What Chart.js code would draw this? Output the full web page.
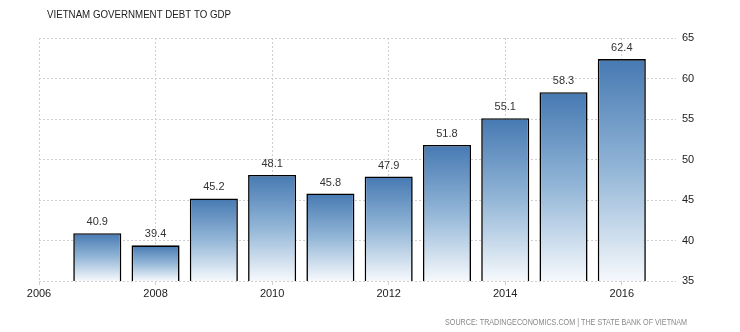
<!DOCTYPE html>
<html>
<head>
<meta charset="utf-8">
<script src="https://cdn.jsdelivr.net/npm/chart.js@4/dist/chart.umd.min.js"></script>
<style>
html,body{margin:0;padding:0;background:#fff;}
#wrap{width:740px;height:332px;position:relative;}
</style>
</head>
<body>
<div id="wrap"><canvas id="c" width="740" height="332"></canvas></div>
<script>
const titleText = "VIETNAM GOVERNMENT DEBT TO GDP";
const sourceText = "SOURCE: TRADINGECONOMICS.COM | THE STATE BANK OF VIETNAM";
const years = [2007, 2008, 2009, 2010, 2011, 2012, 2013, 2014, 2015, 2016];
const debt = [40.9, 39.4, 45.2, 48.1, 45.8, 47.9, 51.8, 55.1, 58.3, 62.4];
const xTickYears = [2006, 2008, 2010, 2012, 2014, 2016];
const yTicks = [35, 40, 45, 50, 55, 60, 65];

const FONT = "'Liberation Sans', Arial, sans-serif";
const NARROW = "'Liberation Sans Narrow', 'Arial Narrow', 'Liberation Sans', sans-serif";

const points = years.map((yr, i) => ({x: yr, y: debt[i]}));

function fitText(ctx, text, x, y, width) {
  const w = ctx.measureText(text).width;
  if (w > width) {
    ctx.save();
    ctx.translate(x, y);
    ctx.scale(width / w, 1);
    ctx.fillText(text, 0, 0);
    ctx.restore();
  } else {
    ctx.fillText(text, x, y);
  }
}

const textPlugin = {
  id: 'texts',
  afterDatasetsDraw(chart) {
    const ctx = chart.ctx;
    const meta = chart.getDatasetMeta(0);
    ctx.save();
    ctx.fillStyle = '#333';
    ctx.font = '11px ' + FONT;
    ctx.textAlign = 'center';
    ctx.textBaseline = 'middle';
    meta.data.forEach((bar, i) => {
      ctx.fillText(debt[i].toFixed(1), bar.x, bar.y - 11);
    });
    ctx.restore();
  },
  afterDraw(chart) {
    const ctx = chart.ctx;
    ctx.save();
    ctx.fillStyle = '#222';
    ctx.font = '11px ' + FONT;
    ctx.textAlign = 'left';
    ctx.textBaseline = 'middle';
    fitText(ctx, titleText, 47, 15, 184);
    ctx.fillStyle = '#888';
    ctx.font = '9px ' + FONT;
    ctx.textAlign = 'left';
    fitText(ctx, sourceText, 445, 323, 242);
    ctx.restore();
  }
};

new Chart(document.getElementById('c'), {
  type: 'bar',
  data: {
    datasets: [{
      data: points,
      backgroundColor(context) {
        const chart = context.chart;
        const area = chart.chartArea;
        if (!area || context.parsed == null) return '#6d9bc9';
        const top = chart.scales.y.getPixelForValue(context.parsed.y);
        const g = chart.ctx.createLinearGradient(0, top, 0, area.bottom);
        g.addColorStop(0, '#4679b2');
        g.addColorStop(0.5, '#93b6d7');
        g.addColorStop(1, '#f6f9fc');
        return g;
      },
      borderColor: '#000',
      borderWidth: 1.6,
      borderSkipped: false,
      barPercentage: 0.825,
      categoryPercentage: 1
    }]
  },
  plugins: [textPlugin],
  options: {
    responsive: false,
    animation: false,
    devicePixelRatio: 1,
    layout: {padding: {left: 39, top: 38, right: 0, bottom: 0}},
    plugins: {legend: {display: false}, tooltip: {enabled: false}, title: {display: false}},
    scales: {
      x: {
        type: 'linear',
        offset: false,
        min: 2006,
        max: 2016.93,
        afterBuildTicks(scale) {
          scale.ticks = xTickYears.map(v => ({value: v}));
        },
        afterFit(scale) { scale.height = 51; },
        border: {display: false, dash: [2, 2]},
        grid: {
          offset: false,
          color: '#cfcfcf',
          lineWidth: 1,
          tickLength: 4,
          drawTicks: true
        },
        ticks: {
          color: '#222',
          font: {family: FONT, size: 11},
          padding: 2,
          maxRotation: 0,
          autoSkip: false,
          callback: v => String(v)
        }
      },
      y: {
        position: 'right',
        min: 35,
        max: 65,
        afterBuildTicks(scale) {
          scale.ticks = yTicks.map(v => ({value: v}));
        },
        afterFit(scale) { scale.width = 64; },
        border: {display: false, dash: [2, 2]},
        grid: {
          color: '#cfcfcf',
          lineWidth: 1,
          drawTicks: false
        },
        ticks: {
          color: '#222',
          font: {family: FONT, size: 11},
          padding: 6
        }
      }
    }
  }
});
</script>
</body>
</html>
